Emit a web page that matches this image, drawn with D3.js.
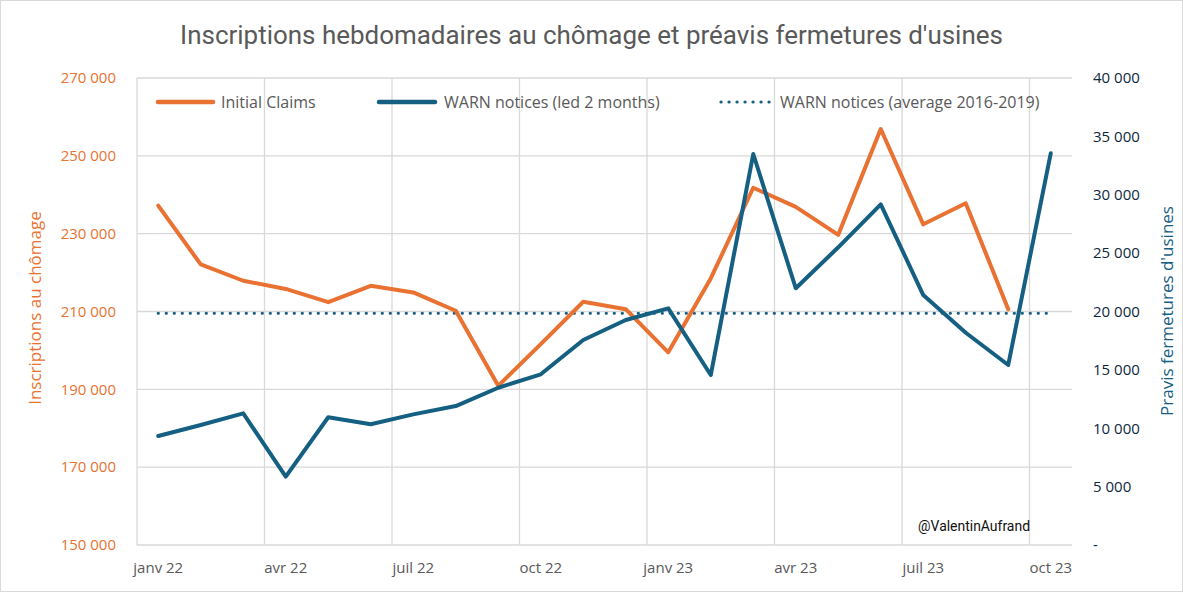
<!DOCTYPE html>
<html><head><meta charset="utf-8">
<script src="https://cdn.jsdelivr.net/npm/d3@7"></script>
<style>
html,body{margin:0;padding:0;background:#fff;}
svg{display:block;}
text{font-family:"Open Sans","Noto Sans",sans-serif;}
</style></head>
<body>
<svg id="chart" width="1183" height="592"></svg>
<script>
const title = "Inscriptions hebdomadaires au chômage et préavis fermetures d'usines";
const months = ["2022-01","2022-02","2022-03","2022-04","2022-05","2022-06","2022-07","2022-08","2022-09","2022-10","2022-11","2022-12",
  "2023-01","2023-02","2023-03","2023-04","2023-05","2023-06","2023-07","2023-08","2023-09","2023-10"];
const monthLabels = {"2022-01":"janv 22","2022-04":"avr 22","2022-07":"juil 22","2022-10":"oct 22",
  "2023-01":"janv 23","2023-04":"avr 23","2023-07":"juil 23","2023-10":"oct 23"};
const initialClaims = [237200,222100,217900,215800,212400,216600,214900,210200,190900,201600,212500,210600,
  199500,218500,241800,236900,229700,256900,232400,237800,210600];
const warnNotices = [9340,10280,11280,5850,10940,10340,11190,11900,13470,14620,17560,19270,
  20270,14560,33490,21990,25500,29180,21410,18180,15420,33550];
const warnAverage = 19850;
const leftTicks = [150000,170000,190000,210000,230000,250000,270000];
const rightTicks = [0,5000,10000,15000,20000,25000,30000,35000,40000];
const legendLabels = ["Initial Claims","WARN notices (led 2 months)","WARN notices (average 2016-2019)"];

const ORANGE = "#E97132", BLUE = "#156082", GRID = "#D9D9D9", TXT = "#595959";
const svg = d3.select("#chart");
const W = 1183, H = 592;
const plot = {left:137, right:1072, top:78, bottom:545};

function fitWidth(sel, target){
  const w = sel.node().getComputedTextLength();
  const fs = parseFloat(sel.attr("font-size"));
  if (w > 0) sel.attr("font-size", (fs*target/w).toFixed(2));
}

svg.append("rect").attr("x",0.5).attr("y",0.5).attr("width",W-1).attr("height",H-1)
  .attr("fill","#fff").attr("stroke",GRID).attr("stroke-width",1);

const x = d3.scaleBand().domain(months).range([plot.left, plot.right]).padding(0);
const xc = d => x(d) + x.bandwidth()/2;
const yL = d3.scaleLinear().domain([150000,270000]).range([plot.bottom, plot.top]);
const yR = d3.scaleLinear().domain([0,40000]).range([plot.bottom, plot.top]);
const fr = d3.formatLocale({decimal:",", thousands:"\u202f", grouping:[3], currency:["","€"]});
const fmt = v => v === 0 ? "-" : fr.format(",")(v).replace(/\u202f/g," ");

// horizontal grid
svg.append("g").selectAll("line").data(leftTicks).join("line")
  .attr("x1",plot.left).attr("x2",plot.right)
  .attr("y1",d=>yL(d)).attr("y2",d=>yL(d))
  .attr("stroke",GRID).attr("stroke-width",1.3);
// vertical grid at quarter boundaries
const gridMonths = months.filter((m,i)=>i%3===0);
svg.append("g").selectAll("line").data(gridMonths).join("line")
  .attr("x1",d=>x(d)).attr("x2",d=>x(d))
  .attr("y1",plot.top).attr("y2",plot.bottom)
  .attr("stroke",GRID).attr("stroke-width",1.3);

// left axis labels
svg.append("g").selectAll("text").data(leftTicks).join("text")
  .attr("x",116).attr("y",d=>yL(d)).attr("dy","0.35em")
  .attr("text-anchor","end").attr("fill",ORANGE).attr("font-size",15).text(fmt);
// right axis labels
svg.append("g").selectAll("text").data(rightTicks).join("text")
  .attr("x",1093).attr("y",d=>yR(d)).attr("dy","0.35em")
  .attr("text-anchor","start").attr("fill","#0E2841").attr("font-size",15).text(fmt);
// x labels
svg.append("g").selectAll("text").data(months.filter(m=>monthLabels[m])).join("text")
  .attr("x",d=>xc(d)).attr("y",573)
  .attr("text-anchor","middle").attr("fill",TXT).attr("font-size",15).text(d=>monthLabels[d]);

// axis titles
svg.append("text").attr("transform","translate(41,308) rotate(-90)")
  .attr("text-anchor","middle").attr("fill",ORANGE).attr("font-size",17).text("Inscriptions au chômage");
svg.append("text").attr("transform","translate(1173,311) rotate(-90)")
  .attr("text-anchor","middle").attr("fill",BLUE).attr("font-size",17).text("Pravis fermetures d'usines");

// title
const t = svg.append("text").attr("x",591.5).attr("y",44).attr("text-anchor","middle")
  .attr("fill",TXT).attr("font-size",26).style("font-family","Roboto, 'Open Sans', sans-serif").text(title);
fitWidth(t, 823);

// average dotted line
svg.append("line")
  .attr("x1",xc(months[0])).attr("x2",xc(months[months.length-1]))
  .attr("y1",yR(warnAverage)).attr("y2",yR(warnAverage))
  .attr("stroke",BLUE).attr("stroke-width",3.2).attr("stroke-linecap","round")
  .attr("stroke-dasharray","0.1 7.9");

// lines
const lineL = d3.line().x((d,i)=>xc(months[i])).y(d=>yL(d));
const lineR = d3.line().x((d,i)=>xc(months[i])).y(d=>yR(d));
svg.append("path").datum(initialClaims).attr("d",lineL).attr("fill","none")
  .attr("stroke",ORANGE).attr("stroke-width",4).attr("stroke-linejoin","round").attr("stroke-linecap","round");
svg.append("path").datum(warnNotices).attr("d",lineR).attr("fill","none")
  .attr("stroke",BLUE).attr("stroke-width",4).attr("stroke-linejoin","round").attr("stroke-linecap","round");

// legend
const lg = svg.append("g");
const legendItems = [
  {x1:158,x2:213,tx:221,color:ORANGE,dash:null},
  {x1:379,x2:435,tx:444,color:BLUE,dash:null},
  {x1:721,x2:774,tx:780,color:BLUE,dash:"0.1 7.9"}];
legendItems.forEach((it,i)=>{
  const l = lg.append("line").attr("x1",it.x1).attr("x2",it.x2).attr("y1",102).attr("y2",102)
    .attr("stroke",it.color).attr("stroke-linecap","round");
  if(it.dash){l.attr("stroke-width",3.2).attr("stroke-dasharray",it.dash);} else {l.attr("stroke-width",4.5);}
  lg.append("text").attr("x",it.tx).attr("y",102).attr("dy","0.35em").attr("fill",TXT)
    .attr("font-size",16).text(legendLabels[i]);
});

// watermark
const wm = svg.append("text").attr("x",1030).attr("y",526).attr("dy","0.35em").attr("text-anchor","end")
  .attr("fill","#111").attr("font-size",15).style("font-family","Roboto, 'Open Sans', sans-serif").text("@ValentinAufrand");
fitWidth(wm, 112);
</script>
</body></html>
